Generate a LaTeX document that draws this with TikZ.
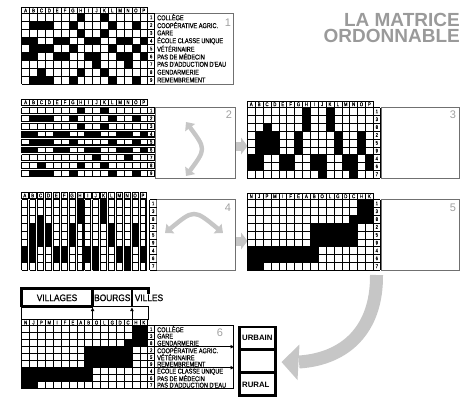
\documentclass[tikz,border=0pt]{standalone}
\usepackage{fontspec}
\setmainfont{Liberation Sans}
\newfontfamily\cond[FakeStretch=0.8,FakeBold=0.5]{Liberation Sans}
\newfontfamily\condg[FakeStretch=0.88,FakeBold=0.6]{Liberation Sans}
\usetikzlibrary{arrows.meta}
\definecolor{arrgray}{HTML}{C6C6C6}
\definecolor{titgray}{HTML}{9A9A9A}
\definecolor{numgray}{HTML}{A0A0A0}
\definecolor{panelline}{HTML}{707070}
% data (row index / black column indices)
\def\MA{0/{7,10},1/{1,2,3,6,11,14},2/{7,10},3/{0,1,4,5,8,9,12,13,15},4/{1,2,3,6,11,14},5/{0,1,4,5,8,9,12,13,15},6/{9,13},7/{2,7,10},8/{1,2,3,6,11,14}}
\def\MC{0/{7,10},1/{7,10},2/{2,7,10},3/{1,2,3,6,11,14},4/{1,2,3,6,11,14},5/{1,2,3,6,11,14},6/{0,1,4,5,8,9,12,13,15},7/{0,1,4,5,8,9,12,13,15},8/{9,13}}
\def\ME{0/{14,15},1/{14,15},2/{13,14,15},3/{8,9,10,11,12,13},4/{8,9,10,11,12,13},5/{8,9,10,11,12,13},6/{0,1,2,3,4,5,6,7,8},7/{0,1,2,3,4,5,6,7,8},8/{0,1}}
\def\RA{1,2,3,4,5,6,7,8,9}
\def\RB{1,3,8,2,5,9,4,6,7}
\def\LA{A,B,C,D,E,F,G,H,I,J,K,L,M,N,O,P}
\def\LB{N,J,P,M,I,F,E,A,B,O,L,G,D,C,H,K}
% #1 name, #2 x0, #3 y0, #4 row height, #5 data, #6 row numbers
\newcommand\fullmat[6]{%
  \foreach \r/\cs in #5 {\foreach \c in \cs {\fill ({#2+\c*7.875},{#3+\r*#4}) rectangle ++(7.875,#4);}}
  \foreach \i in {0,...,16} {\draw[gl] ({#2+\i*7.875},#3) -- ++(0,{9*#4});}
  \draw[gl] ({#2+133},#3) -- ++(0,{9*#4});
  \foreach \j in {0,...,9} {\draw[gl] (#2,{#3+\j*#4}) -- ++(133,0);}
  \foreach \n [count=\k from 0] in #6 {\node[rnum] (#1n\k) at ({#2+129.5},{#3+(\k+0.5)*#4}) {\n};}
}
% #1 name, #2 x0, #3 ytop, #4 height, #5 letters, #6 box width
\newcommand\hdrrow[6]{%
  \foreach \L [count=\i from 0] in #5 {\draw[gl] ({#2+\i*7.875},#3) rectangle ++(#6,#4);
    \node[hdr] (#1h\i) at ({#2+\i*7.875+#6/2},{#3+#4/2}) {\L};}
}
\begin{document}
\begin{tikzpicture}[x=1pt,y=-1pt,
  gl/.style={line width=0.45pt},
  hdr/.style={font=\cond\fontsize{5.4}{6}\selectfont, inner sep=0},
  rnum/.style={font=\cond\fontsize{5.2}{6}\selectfont, inner sep=0},
  lbl/.style={font=\cond\fontsize{7}{8}\selectfont, anchor=west, inner sep=0},
  pnum/.style={font=\fontsize{11}{12}\selectfont, text=numgray, inner sep=0},
  panel/.style={draw=panelline, line width=0.6pt},
  grp/.style={font=\condg\fontsize{9.5}{10}\selectfont, inner sep=0},
  zone/.style={font=\bfseries\fontsize{7.8}{9}\selectfont, inner sep=0, anchor=west},
  ttl/.style={font=\bfseries\fontsize{19}{19}\selectfont, text=titgray, anchor=base east, inner sep=0},
  dblarr/.style={draw=arrgray, line width=4.4pt, {Triangle[length=7pt,width=12pt]}-{Triangle[length=7pt,width=12pt]}},
  blk/.style={-{Triangle[length=3.5pt,width=3.5pt]}, line width=0.7pt},
]
\useasboundingbox (0,0) rectangle (470,399);

% title
\node[ttl] (title1) at (460,26.3) {LA MATRICE};
\node[ttl] (title2) at (460,42) {ORDONNABLE};

% ---------- matrix 1
\draw[panel] (154.7,13.3) rectangle (233,84);
\fullmat{m1}{21.7}{13.3}{7.85}{\MA}{\RA}
\hdrrow{m1}{21.7}{7.7}{5.6}{\LA}{7.875}
\node[pnum] (p1) at (228,23) {1};
\node[lbl] (m1l1) at (157,{13.3+0.5*7.85}) {COLLÈGE};
\node[lbl] (m1l2) at (157,{13.3+1.5*7.85}) {COOPÉRATIVE AGRIC.};
\node[lbl] (m1l3) at (157,{13.3+2.5*7.85}) {GARE};
\node[lbl] (m1l4) at (157,{13.3+3.5*7.85}) {ÉCOLE CLASSE UNIQUE};
\node[lbl] (m1l5) at (157,{13.3+4.5*7.85}) {VÉTÉRINAIRE};
\node[lbl] (m1l6) at (157,{13.3+5.5*7.85}) {PAS DE MÉDECIN};
\node[lbl] (m1l7) at (157,{13.3+6.5*7.85}) {PAS D'ADDUCTION D'EAU};
\node[lbl] (m1l8) at (157,{13.3+7.5*7.85}) {GENDARMERIE};
\node[lbl] (m1l9) at (157,{13.3+8.5*7.85}) {REMEMBREMENT};

% ---------- matrix 2 (row strips)
\draw[panel] (155,107.5) rectangle (235,178.2);
\hdrrow{m2}{21.7}{99.5}{5.6}{\LA}{7.875}
\foreach \r/\cs in \MA {
  \pgfmathsetmacro\yt{107.5+\r*7.85}
  \foreach \c in \cs {\fill ({21.7+\c*7.875},\yt) rectangle ++(7.875,6);}
  \foreach \i in {0,...,16} {\draw[gl] ({21.7+\i*7.875},\yt) -- ++(0,6);}
  \draw[gl] (21.7,\yt) -- ++(133,0);
  \draw[line width=1.3pt] (21.2,{\yt+6}) -- ++(134.2,0);
  \draw[line width=1.1pt] (154.7,\yt) -- ++(0,6.6);
  \draw[line width=0.9pt] (21.7,\yt) -- ++(0,6);
}
\foreach \n [count=\k from 0] in \RA {\node[rnum] (m2n\k) at (151.2,{107.5+\k*7.85+3}) {\n};}
\node[pnum] (p2) at (229,115) {2};
\coordinate (a2s) at (186,122); \coordinate (a2e) at (186,176);
\draw[dblarr] (a2s) .. controls (206,149) .. (a2e);
\fill[arrgray] (236.3,141.5) rectangle (241.2,150.5);
\fill[arrgray] (241,137.5) -- (247.5,146) -- (241,154.5) -- cycle;

% ---------- matrix 3
\draw[panel] (381.3,107.5) rectangle (459.5,178.2);
\fullmat{m3}{247.3}{107.5}{7.85}{\MC}{\RB}
\hdrrow{m3}{247.3}{101.5}{5.6}{\LA}{7.875}
\node[pnum] (p3) at (453,115) {3};

% ---------- matrix 4 (column strips)
\draw[panel] (156.5,199.5) rectangle (235,270.2);
\foreach \r/\cs in \MC {\foreach \c in \cs {\fill ({21.7+\c*7.875},{199.5+\r*7.85}) rectangle ++(6.2,7.85);}}
\foreach \i in {0,...,15} {
  \pgfmathsetmacro\xl{21.7+\i*7.875}
  \foreach \j in {0,...,9} {\draw[gl] (\xl,{199.5+\j*7.85}) -- ++(6.2,0);}
  \draw[gl] (\xl,199.5) -- ++(0,70.65);
  \draw[line width=1.1pt] ({\xl+6.2},199) -- ++(0,71.6);
  \draw[line width=1.1pt] (\xl,270.3) -- ++(6.75,0);
}
\hdrrow{m4}{21.7}{192.5}{6}{\LA}{6.2}
\foreach \j in {0,...,9} {\draw[gl] (149.8,{199.5+\j*7.85}) -- ++(6.7,0);}
\draw[line width=0.9pt] (149.8,199.5) -- ++(0,70.65);
\foreach \n [count=\k from 0] in \RB {\node[rnum] (m4n\k) at (153.2,{199.5+(\k+0.5)*7.85}) {\n};}
\node[pnum] (p4) at (228,208) {4};
\coordinate (a4s) at (165,233); \coordinate (a4e) at (223,233);
\draw[dblarr] (a4s) .. controls (194,209) .. (a4e);
\fill[arrgray] (236.3,236.5) rectangle (241.2,245.5);
\fill[arrgray] (241,232.5) -- (247.5,241) -- (241,249.5) -- cycle;

% ---------- matrix 5
\draw[panel] (381.3,199.5) rectangle (459.5,270.2);
\fullmat{m5}{247.3}{199.5}{7.85}{\ME}{\RB}
\hdrrow{m5}{247.3}{193.5}{5.6}{\LB}{7.875}
\node[pnum] (p5) at (453,208) {5};

% big curved arrow
\coordinate (bs) at (376.5,275);
\coordinate (be) at (299,362);
\draw[arrgray, line width=13pt] (bs) .. controls (377,330) and (345,359) .. (be);
\fill[arrgray] (299.5,344.5) -- (281.5,362) -- (297.5,380) -- cycle;

% ---------- matrix 6
\draw[gl] (21.7,306.5) rectangle (148.2,319.5);
\draw[line width=2.6pt] (21.7,306.5) -- (21.7,288.3) -- (148.2,288.3) -- (148.2,293.5);
\draw[line width=2.6pt] (21.7,306.5) -- (92.6,306.5);
\draw[line width=1.2pt] (92.6,306.5) -- (132,306.5);
\draw[line width=2.6pt] (92.6,288.3) -- (92.6,306.5);
\draw[line width=2.6pt] (132,288.3) -- (132,306.5);
\node[grp] (vill) at (57,297.8) {VILLAGES};
\node[grp] (bourg) at (112.3,297.8) {BOURGS};
\node[grp, anchor=west] (ville) at (134.6,297.8) {VILLES};

\draw[gl] (154.7,325.7) rectangle (233,388.7);
\fullmat{m6}{21.7}{325.7}{7.0}{\ME}{\RB}
\hdrrow{m6}{21.7}{319.5}{6.2}{\LB}{7.875}
\coordinate (g1) at (92.6,388.7); \coordinate (g1t) at (92.6,307.6);
\coordinate (g2) at (131.95,388.7); \coordinate (g2t) at (131.95,307.6);
\draw[blk] (g1) -- (g1t);
\draw[blk] (g2) -- (g2t);
\node[lbl] (m6l1) at (157,{325.7+0.5*7}) {COLLÈGE};
\node[lbl] (m6l2) at (157,{325.7+1.5*7}) {GARE};
\node[lbl] (m6l3) at (157,{325.7+2.5*7}) {GENDARMERIE};
\node[lbl] (m6l4) at (157,{325.7+3.5*7}) {COOPÉRATIVE AGRIC.};
\node[lbl] (m6l5) at (157,{325.7+4.5*7}) {VÉTÉRINAIRE};
\node[lbl] (m6l6) at (157,{325.7+5.5*7}) {REMEMBREMENT};
\node[lbl] (m6l7) at (157,{325.7+6.5*7}) {ÉCOLE CLASSE UNIQUE};
\node[lbl] (m6l8) at (157,{325.7+7.5*7}) {PAS DE MÉDECIN};
\node[lbl] (m6l9) at (157,{325.7+8.5*7}) {PAS D'ADDUCTION D'EAU};
\node[pnum] (p6) at (220,333) {6};
\coordinate (h1) at (21.7,346.7); \coordinate (h1e) at (234,346.7);
\coordinate (h2) at (21.7,367.7); \coordinate (h2e) at (234,367.7);
\draw[blk] (h1) -- (h1e);
\draw[blk] (h2) -- (h2e);

% urbain / rural
\fill (238.3,325.7) rectangle (276.7,396.7);
\fill[white] (241,328.3) rectangle (274,347.8);
\fill[white] (241,351) rectangle (274,370.5);
\fill[white] (241,373.8) rectangle (274,394);
\node[zone] (urb) at (242,338) {URBAIN};
\node[zone] (rur) at (242,384.5) {RURAL};
\end{tikzpicture}
\end{document}
